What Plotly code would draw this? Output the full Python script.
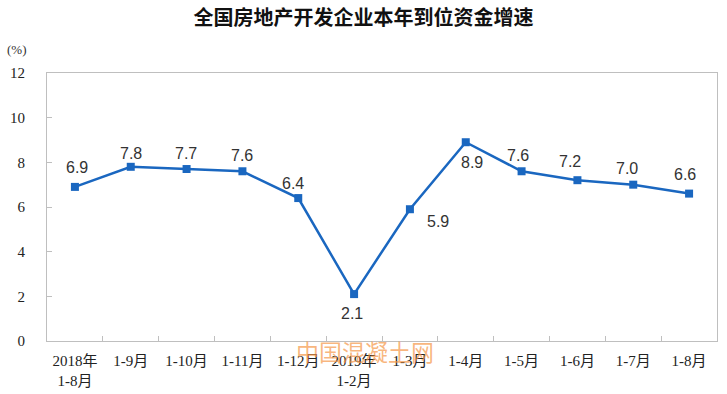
import plotly.graph_objects as go

categories = ["2018年<br>1-8月", "1-9月", "1-10月", "1-11月", "1-12月", "2019年<br>1-2月",
              "1-3月", "1-4月", "1-5月", "1-6月", "1-7月", "1-8月"]
values = [6.9, 7.8, 7.7, 7.6, 6.4, 2.1, 5.9, 8.9, 7.6, 7.2, 7.0, 6.6]
labels = ["6.9", "7.8", "7.7", "7.6", "6.4", "2.1", "5.9", "8.9", "7.6", "7.2", "7.0", "6.6"]
y_ticks = [0, 2, 4, 6, 8, 10, 12]

# label pixel offsets (styling)
label_dx = [2, 0, -1, 0, -5, -2, 28, 6, -4, -7, -6, -4]
label_dy = [19, 13, 16, 16, 15, -19, -12, -20, 16, 19, 16, 19]

line_color = "#1a67c0"
axis_color = "#bfbfbf"
tick_font = dict(family="Liberation Serif, Noto Sans CJK SC", size=15, color="#222222")

fig = go.Figure()
fig.add_trace(go.Scatter(
    x=categories, y=values, mode="lines+markers",
    line=dict(color=line_color, width=2.5),
    marker=dict(symbol="square", size=8, color=line_color),
    hoverinfo="skip", showlegend=False,
))

for c, v, t, dx, dy in zip(categories, values, labels, label_dx, label_dy):
    fig.add_annotation(x=c, y=v, text=t, showarrow=False, xshift=dx, yshift=dy,
                       font=dict(family="Liberation Sans, Arial", size=16, color="#333333"))

fig.add_annotation(xref="paper", yref="paper", x=0, y=1, xshift=-42, yshift=24, text="(%)", showarrow=False,
                   xanchor="left", yanchor="middle",
                   font=dict(family="Liberation Serif, Noto Sans CJK SC", size=13, color="#333333"))
fig.add_annotation(xref="paper", yref="paper", x=0.475, y=0, yshift=-10, text="中国混凝土网", showarrow=False,
                   yanchor="middle",
                   font=dict(family="Noto Sans CJK SC", size=23, color="rgba(245,150,70,0.7)"))

fig.update_layout(
    width=727, height=394,
    margin=dict(l=47, r=10, t=73, b=53),
    paper_bgcolor="white", plot_bgcolor="white",
    title=dict(text="<b>全国房地产开发企业本年到位资金增速</b>", x=0.5, xanchor="center", y=0.955, yanchor="middle",
               font=dict(family="Noto Sans CJK SC", size=20, color="#111111")),
    xaxis=dict(type="category", range=[-0.5, len(categories) - 0.5],
               showline=True, linecolor=axis_color, linewidth=1, mirror=True,
               ticks="inside", tickson="boundaries", ticklen=5, tickcolor=axis_color,
               showgrid=False, ticklabelstandoff=6, automargin=False, tickfont=tick_font),
    yaxis=dict(range=[0, 12], tickvals=y_ticks, showline=True, linecolor=axis_color, linewidth=1, mirror=True,
               ticks="inside", ticklen=5, tickcolor=axis_color, showgrid=False, zeroline=False,
               ticklabelstandoff=18, automargin=False,
               tickfont=dict(family="Liberation Serif", size=15, color="#222222")),
)

fig.write_html("out.html", config={"displayModeBar": False},
               post_script="document.body.style.margin='0';document.body.style.overflow='hidden';")
